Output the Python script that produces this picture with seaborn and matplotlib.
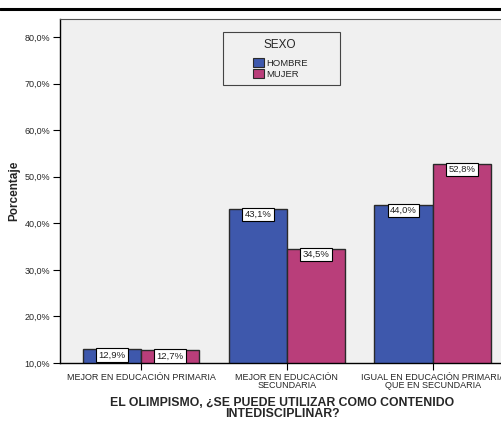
import numpy as np
import pandas as pd
import seaborn as sns
import matplotlib.pyplot as plt
from matplotlib.lines import Line2D
from matplotlib.patches import Patch, Rectangle

categorias = ["MEJOR EN EDUCACIÓN PRIMARIA",
              "MEJOR EN EDUCACIÓN\nSECUNDARIA",
              "IGUAL EN EDUCACIÓN PRIMARIA\nQUE EN SECUNDARIA"]
sexos = ["HOMBRE", "MUJER"]
hombre = [12.9, 43.1, 44.0]
mujer = [12.7, 34.5, 52.8]
yticks = [10, 20, 30, 40, 50, 60, 70, 80]

df = pd.DataFrame({
    "cat": categorias * 2,
    "sexo": ["HOMBRE"] * 3 + ["MUJER"] * 3,
    "pct": hombre + mujer,
})

sns.set_style("white")
plt.rcParams['font.family'] = ['Liberation Sans', 'DejaVu Sans']

fig = plt.figure(figsize=(5.02, 4.21), dpi=100)
ax = fig.add_axes([0.1195, 0.1378, 0.885, 0.8171])
ax.set_facecolor("#f0f0f0")

colores = {"HOMBRE": "#3e58ac", "MUJER": "#b93e7a"}
sns.barplot(data=df, x="cat", y="pct", hue="sexo", order=categorias,
            hue_order=sexos, palette=colores, width=0.8, ax=ax,
            edgecolor="#2a2a2a", linewidth=1.0, saturation=1, legend=False)

ax.set_ylim(10, 83.9)
ax.set_xlim(-0.556, 2.49)
ax.set_yticks(yticks)
ax.set_yticklabels([f"{v:.1f}%".replace(".", ",") for v in yticks], fontsize=6.5)
ax.set_xticks(range(3))
ax.set_xticklabels(categorias, fontsize=6.5, linespacing=0.95)
ax.tick_params(axis="both", direction="out", length=5, width=0.8, color="black",
               left=True, bottom=True, pad=2)

for s in ["top", "right"]:
    ax.spines[s].set_color("#555555")
    ax.spines[s].set_linewidth(0.8)
for s in ["left", "bottom"]:
    ax.spines[s].set_color("black")
    ax.spines[s].set_linewidth(1.0)

# etiquetas de porcentaje
for cont in ax.containers:
    for bar in cont:
        h = bar.get_height()
        x = bar.get_x() + bar.get_width() / 2
        ax.text(x, h - 0.25, f"{h:.1f}%".replace(".", ","), ha="center", va="top",
                fontsize=6.8, color="#222222",
                bbox=dict(boxstyle="square,pad=0.25", fc="white", ec="black", lw=0.8))

ax.set_ylabel("Porcentaje", fontsize=8.5, fontweight="bold", labelpad=3)
ax.set_xlabel("EL OLIMPISMO, ¿SE PUEDE UTILIZAR COMO CONTENIDO\nINTEDISCIPLINAR?",
              fontsize=8.8, fontweight="bold", labelpad=5, linespacing=0.9)

# leyenda
ax.add_patch(Rectangle((0.367, 0.808), 0.264, 0.154, transform=ax.transAxes,
                       facecolor="#f0f0f0", edgecolor="#444444", lw=0.8, zorder=5))
handles = [Patch(facecolor=colores[s], edgecolor="#2a2a2a", lw=0.8) for s in sexos]
leg = ax.legend(handles, sexos, title="SEXO", loc="upper center",
                bbox_to_anchor=(0.495, 0.943), fontsize=6.8, title_fontsize=8.5,
                frameon=False, handlelength=1.2, handleheight=1.2,
                handletextpad=0.2, labelspacing=0.1, borderpad=0,
                borderaxespad=0)
leg.set_zorder(6)
leg._legend_box.align = "center"
leg._legend_box.sep = 5

# línea superior
fig.add_artist(Line2D([0, 1], [0.979, 0.979], transform=fig.transFigure,
                      color="black", lw=2.2))

fig.savefig("out.png", dpi=100, facecolor="white")
